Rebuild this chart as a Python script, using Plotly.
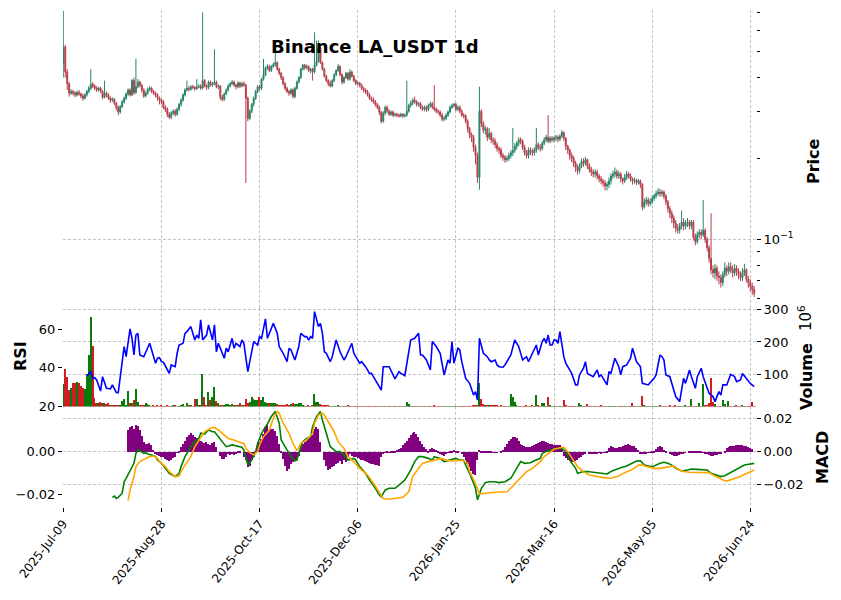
import pandas as pd
import plotly.graph_objects as go

START = "2025-07-09"
TITLE = "Binance LA_USDT 1d"
FIRST_OPEN = 0.45

close = [
0.52,0.42,0.38,0.35,0.355,0.35,0.345,0.352,0.348,0.342,
0.335,0.345,0.355,0.365,0.378,0.372,0.366,0.36,0.365,0.356,
0.338,0.35,0.344,0.336,0.33,0.332,0.322,0.31,0.298,0.312,
0.325,0.335,0.348,0.36,0.345,0.39,0.352,0.37,0.385,0.375,
0.36,0.342,0.35,0.362,0.365,0.355,0.35,0.345,0.335,0.33,
0.325,0.31,0.305,0.292,0.285,0.295,0.30,0.292,0.305,0.318,
0.33,0.345,0.36,0.365,0.362,0.37,0.368,0.364,0.37,0.372,
0.366,0.39,0.372,0.368,0.385,0.375,0.38,0.385,0.37,0.372,
0.338,0.332,0.348,0.36,0.372,0.38,0.385,0.375,0.37,0.382,
0.372,0.38,0.375,0.335,0.282,0.30,0.318,0.335,0.355,0.37,
0.365,0.395,0.41,0.435,0.44,0.425,0.44,0.448,0.455,0.43,
0.415,0.40,0.38,0.365,0.355,0.35,0.36,0.34,0.365,0.385,
0.40,0.43,0.445,0.435,0.44,0.425,0.43,0.42,0.445,0.46,
0.515,0.455,0.43,0.405,0.39,0.38,0.372,0.39,0.41,0.425,
0.44,0.41,0.385,0.40,0.415,0.395,0.42,0.405,0.39,0.38,
0.382,0.375,0.365,0.36,0.355,0.345,0.335,0.332,0.325,0.318,
0.31,0.298,0.275,0.295,0.31,0.30,0.292,0.298,0.29,0.292,
0.29,0.288,0.292,0.288,0.29,0.30,0.315,0.322,0.33,0.325,
0.318,0.32,0.31,0.305,0.31,0.305,0.315,0.32,0.31,0.305,
0.30,0.298,0.29,0.28,0.282,0.29,0.298,0.31,0.315,0.318,
0.305,0.31,0.30,0.29,0.288,0.275,0.258,0.245,0.24,0.22,
0.205,0.17,0.30,0.27,0.255,0.258,0.24,0.248,0.235,0.232,
0.225,0.218,0.215,0.205,0.202,0.198,0.20,0.205,0.21,0.214,
0.222,0.228,0.235,0.232,0.22,0.21,0.205,0.215,0.212,0.21,
0.215,0.225,0.22,0.218,0.228,0.235,0.24,0.232,0.238,0.235,
0.238,0.24,0.236,0.242,0.25,0.238,0.222,0.215,0.205,0.20,
0.192,0.185,0.18,0.188,0.195,0.192,0.198,0.188,0.182,0.178,
0.175,0.178,0.172,0.168,0.165,0.162,0.158,0.16,0.165,0.172,
0.175,0.178,0.172,0.175,0.168,0.165,0.17,0.175,0.172,0.168,
0.165,0.166,0.163,0.165,0.16,0.132,0.138,0.14,0.136,0.138,
0.142,0.145,0.148,0.15,0.148,0.15,0.145,0.138,0.13,0.125,
0.12,0.115,0.11,0.108,0.112,0.116,0.112,0.115,0.116,0.112,
0.116,0.102,0.098,0.104,0.106,0.104,0.108,0.10,0.093,0.085,
0.077,0.075,0.078,0.073,0.072,0.069,0.074,0.078,0.076,0.079,
0.077,0.075,0.078,0.076,0.074,0.072,0.075,0.077,0.071,0.069,
0.067,0.065,0.063]

high = [
0.71,0.53,0.43,0.385,0.362,0.36,0.356,0.358,0.36,0.352,
0.348,0.35,0.36,0.372,0.43,0.385,0.378,0.372,0.37,0.37,
0.36,0.39,0.355,0.35,0.34,0.338,0.336,0.325,0.315,0.316,
0.33,0.34,0.352,0.365,0.365,0.395,0.40,0.47,0.395,0.39,
0.38,0.365,0.356,0.368,0.372,0.37,0.36,0.355,0.35,0.34,
0.335,0.33,0.316,0.31,0.298,0.30,0.305,0.305,0.31,0.322,
0.335,0.35,0.365,0.39,0.372,0.375,0.376,0.372,0.395,0.378,
0.378,0.70,0.395,0.378,0.39,0.39,0.385,0.51,0.39,0.378,
0.375,0.345,0.352,0.365,0.378,0.385,0.392,0.39,0.38,0.388,
0.386,0.386,0.388,0.38,0.34,0.305,0.322,0.34,0.36,0.375,
0.376,0.40,0.47,0.44,0.448,0.445,0.445,0.455,0.52,0.46,
0.435,0.42,0.405,0.385,0.37,0.36,0.365,0.365,0.37,0.39,
0.405,0.435,0.45,0.45,0.448,0.445,0.435,0.435,0.59,0.55,
0.55,0.52,0.46,0.435,0.41,0.395,0.39,0.395,0.415,0.43,
0.45,0.445,0.415,0.405,0.42,0.42,0.43,0.425,0.41,0.395,
0.388,0.386,0.38,0.37,0.365,0.36,0.35,0.34,0.338,0.33,
0.322,0.315,0.30,0.30,0.315,0.315,0.305,0.302,0.302,0.296,
0.296,0.294,0.296,0.295,0.294,0.39,0.32,0.328,0.335,0.34,
0.33,0.325,0.325,0.315,0.315,0.315,0.32,0.325,0.325,0.375,
0.31,0.305,0.302,0.295,0.288,0.295,0.302,0.315,0.32,0.322,
0.322,0.315,0.315,0.305,0.295,0.292,0.28,0.262,0.25,0.245,
0.225,0.21,0.37,0.305,0.275,0.265,0.262,0.26,0.252,0.24,
0.238,0.23,0.222,0.22,0.21,0.206,0.205,0.21,0.215,0.26,
0.228,0.232,0.24,0.24,0.236,0.225,0.215,0.22,0.22,0.218,
0.22,0.26,0.23,0.226,0.232,0.24,0.245,0.29,0.242,0.242,
0.242,0.245,0.244,0.246,0.255,0.252,0.24,0.225,0.218,0.21,
0.205,0.196,0.19,0.192,0.20,0.20,0.203,0.20,0.192,0.186,
0.182,0.182,0.182,0.175,0.172,0.168,0.166,0.164,0.17,0.176,
0.18,0.185,0.182,0.18,0.178,0.17,0.175,0.18,0.178,0.176,
0.17,0.17,0.168,0.168,0.167,0.162,0.142,0.144,0.143,0.142,
0.146,0.148,0.152,0.155,0.154,0.153,0.152,0.147,0.14,0.133,
0.128,0.123,0.118,0.114,0.115,0.128,0.12,0.118,0.12,0.118,
0.118,0.118,0.105,0.107,0.109,0.109,0.14,0.11,0.102,0.095,
0.125,0.08,0.081,0.08,0.076,0.074,0.076,0.082,0.08,0.082,
0.082,0.08,0.081,0.08,0.078,0.076,0.078,0.081,0.078,0.073,
0.071,0.069,0.067]

low = [
0.40,0.40,0.36,0.34,0.345,0.343,0.338,0.34,0.342,0.335,
0.328,0.332,0.34,0.35,0.36,0.365,0.36,0.354,0.355,0.35,
0.332,0.335,0.338,0.33,0.322,0.325,0.316,0.302,0.29,0.294,
0.308,0.32,0.33,0.342,0.34,0.342,0.345,0.348,0.365,0.368,
0.352,0.336,0.338,0.346,0.356,0.35,0.344,0.338,0.328,0.318,
0.318,0.305,0.298,0.285,0.28,0.28,0.29,0.286,0.288,0.30,
0.312,0.325,0.34,0.355,0.356,0.358,0.362,0.358,0.36,0.365,
0.36,0.362,0.368,0.36,0.362,0.37,0.37,0.375,0.365,0.362,
0.33,0.326,0.328,0.344,0.355,0.368,0.375,0.37,0.362,0.365,
0.366,0.368,0.37,0.162,0.275,0.278,0.295,0.312,0.33,0.35,
0.358,0.36,0.39,0.405,0.428,0.42,0.42,0.435,0.44,0.425,
0.408,0.392,0.374,0.358,0.35,0.342,0.345,0.335,0.335,0.36,
0.38,0.395,0.425,0.428,0.43,0.42,0.415,0.39,0.415,0.44,
0.455,0.45,0.425,0.40,0.385,0.372,0.368,0.368,0.385,0.405,
0.42,0.405,0.378,0.38,0.395,0.39,0.39,0.40,0.385,0.375,
0.374,0.368,0.36,0.352,0.348,0.34,0.33,0.325,0.32,0.312,
0.305,0.29,0.27,0.272,0.29,0.295,0.288,0.288,0.285,0.286,
0.285,0.284,0.285,0.283,0.284,0.286,0.296,0.31,0.316,0.32,
0.312,0.312,0.305,0.30,0.30,0.298,0.30,0.31,0.305,0.30,
0.295,0.292,0.285,0.275,0.275,0.278,0.285,0.294,0.305,0.31,
0.30,0.30,0.295,0.285,0.282,0.27,0.25,0.238,0.23,0.212,
0.19,0.162,0.153,0.262,0.248,0.245,0.232,0.235,0.228,0.225,
0.218,0.212,0.208,0.20,0.196,0.193,0.194,0.196,0.20,0.204,
0.21,0.216,0.222,0.226,0.215,0.205,0.20,0.20,0.206,0.204,
0.205,0.21,0.215,0.212,0.214,0.224,0.23,0.228,0.228,0.23,
0.23,0.232,0.23,0.232,0.238,0.232,0.215,0.208,0.198,0.194,
0.186,0.178,0.174,0.176,0.184,0.186,0.188,0.183,0.177,0.172,
0.17,0.17,0.167,0.163,0.16,0.157,0.152,0.152,0.155,0.16,
0.168,0.17,0.168,0.168,0.163,0.16,0.162,0.166,0.168,0.164,
0.16,0.161,0.159,0.16,0.155,0.128,0.13,0.134,0.132,0.133,
0.135,0.139,0.142,0.145,0.144,0.144,0.141,0.134,0.126,0.12,
0.115,0.11,0.106,0.105,0.105,0.109,0.108,0.109,0.111,0.109,
0.109,0.099,0.095,0.096,0.101,0.10,0.102,0.097,0.09,0.082,
0.074,0.072,0.071,0.07,0.068,0.066,0.067,0.072,0.073,0.074,
0.075,0.072,0.073,0.073,0.071,0.07,0.07,0.073,0.069,0.066,
0.064,0.062,0.061]

# daily volume, millions
volume_m = [
70,117,90,50,57,72,72,76,72,64,
58,55,100,160,278,186,25,12,12,14,
10,12,8,10,5,4,5,6,5,6,
17,22,6,48,10,10,20,53,15,6,
4,4,10,8,4,1.5,4,1.5,4,1.5,
4,1.5,1.5,6,1.5,1.5,4,6,1.5,1.5,
4,8,1.5,10,4,6,1.5,22,22,5,
4,100,30,5,46,20,30,62,17,12,
6,5,4,8,8,6,8,5,4,4,
10,4,4,24,10,15,28,24,20,20,
31,20,29,13,10,10,10,10,10,8,
6,5,4,5,8,5,8,10,8,9,
12,12,4,1.5,1.5,5,1.5,5,39,15,
14,9,5,5,5,4,1.5,1.5,1.5,1.5,
5,1.5,1.5,1.5,1.5,5,1.5,1.5,1.5,1.5,
1.5,1.5,1.5,1.5,1.5,1.5,1.5,1.5,1.5,1.5,
1.5,1.5,1.5,1.5,1.5,1.5,1.5,1.5,1.5,1.5,
1.5,1.5,1.5,1.5,1.5,14,8,1.5,1.5,1.5,
1.5,1.5,1.5,1.5,1.5,1.5,1.5,1.5,1.5,5,
1.5,1.5,1.5,1.5,1.5,1.5,1.5,1.5,1.5,1.5,
1.5,1.5,1.5,1.5,1.5,1.5,1.5,1.5,1.5,5,
5,6,73,22,9,5,4,4,6,4,
4,5,1.5,6,1.5,1.5,1.5,1.5,38,30,
13,4,1.5,1.5,1.5,1.5,5,1.5,1.5,5,
1.5,36,5,1.5,12,12,1.5,28,5,1.5,
1.5,1.5,1.5,1.5,1.5,20,5,1.5,1.5,1.5,
1.5,1.5,1.5,11,4,1.5,1.5,8,1.5,1.5,
1.5,1.5,1.5,1.5,4,1.5,1.5,1.5,1.5,1.5,
1.5,1.5,1.5,1.5,1.5,1.5,1.5,1.5,1.5,1.5,
11,1.5,1.5,1.5,1.5,33,4,1.5,1.5,1.5,
1.5,1.5,1.5,1.5,5,1.5,1.5,1.5,1.5,6,
1.5,1.5,6,1.5,1.5,1.5,1.5,6,1.5,1.5,
23,1.5,1.5,1.5,10,1.5,70,5,5,12,
88,15,9,1.5,1.5,1.5,20,8,1.5,17,
1.5,1.5,1.5,6,1.5,1.5,5,1.5,1.5,1.5,
1.5,14,1.5]

rsi_day = [12,14,15,16,17,19,20,22,24,25,27,28,31,32,34,35,36,37,38,39,41,44,47,48,49,50,51,54,55,57,
58,59,61,62,63,65,67,68,69,70,71,73,74,76,77,78,79,80,82,83,84,86,87,88,90,91,92,94,96,97,
99,100,101,103,104,107,109,110,112,114,115,116,118,120,121,123,124,125,126,127,128,130,131,132,133,134,136,137,139,141,
143,144,147,148,149,151,152,154,156,157,162,163,166,169,171,172,174,177,179,181,182,183,185,187,188,190,192,194,196,197,
198,199,201,202,203,205,207,209,210,211,212,214,216,217,218,220,221,222,224,225,228,230,232,234,236,237,239,241,242,244,
245,246,247,248,249,250,251,252,253,255,256,258,259,261,262,263,265,266,267,270,272,273,274,277,278,279,281,283,284,285,
287,289,290,292,294,295,298,301,302,304,305,306,307,309,311,312,314,315,316,317,319,320,322,323,325,326,328,329,331,332,
334,335,336,338,340,342,343,345,346,348,350,352]
rsi_val = [35.7,37.9,34.4,34.8,33.6,27.8,35.3,29.2,28.9,31.0,27.1,27.0,51.0,45.7,60.2,55.3,46.6,57.0,57.9,46.6,45.7,52.7,42.3,44.9,45.2,43.1,42.8,37.0,41.4,40.5,
47.5,51.8,52.7,57.9,58.8,61.4,54.4,57.0,55.3,64.9,54.4,57.0,62.3,54.4,62.3,48.3,52.7,50.1,44.9,50.1,48.3,55.3,50.1,52.7,51.0,54.4,52.7,37.9,48.3,53.6,
51.8,56.2,55.3,65.4,55.3,63.1,57.9,51.0,47.5,43.1,50.1,49.2,44.0,51.0,57.9,56.2,56.2,54.4,56.2,55.3,69.2,61.4,63.1,57.9,48.3,47.5,43.1,45.7,54.4,48.3,
44.0,45.7,52.7,47.5,45.7,42.3,43.1,40.5,37.0,37.0,28.3,40.5,40.5,34.1,37.9,37.0,35.8,54.4,55.3,57.9,46.6,46.6,44.0,38.8,53.6,51.0,47.5,36.2,44.0,42.3,
53.6,42.3,50.1,49.2,43.1,34.4,31.8,25.7,27.5,23.1,55.3,47.5,45.7,44.0,43.1,44.0,41.4,40.5,40.2,41.4,46.6,54.4,51.0,44.0,45.7,43.1,47.5,51.8,46.6,53.6,
55.3,52.7,57.0,51.8,51.8,54.4,54.4,52.7,58.8,45.7,42.3,38.8,37.0,31.0,31.0,36.2,39.7,43.1,37.0,35.3,38.8,35.3,36.2,31.0,37.9,37.0,44.9,40.5,36.2,40.5,
41.4,44.9,50.1,43.1,40.5,31.8,31.0,34.4,36.2,46.6,45.7,44.0,36.2,35.3,28.3,24.9,22.3,28.3,34.4,31.8,38.8,35.3,29.2,35.3,39.7,35.3,30.1,26.6,24.9,22.3,
27.5,25.7,31.0,31.0,36.5,35.3,32.7,33.6,37.0,34.4,31.8,30.1]

macd_day = [25,26,27,28,30,31,32,34,36,37,38,39,41,42,43,45,47,48,50,52,54,57,59,60,62,64,65,67,69,70,
72,74,76,77,79,81,82,83,86,88,91,92,93,94,96,98,99,101,103,104,106,108,110,111,113,115,116,118,119,121,
122,124,126,127,129,131,132,134,136,138,139,141,143,145,148,149,151,154,156,159,161,162,164,166,169,171,174,177,179,181,
183,186,188,189,192,194,196,198,200,201,204,205,207,210,211,213,215,217,220,222,225,228,230,233,235,238,240,241,243,244,
247,250,252,254,256,258,261,262,265,267,270,273,274,277,279,282,284,287,290,292,294,296,299,301,304,306,308,310,312,315,
318,320,323,325,328,330,333,335,337,340,342,345,347,350,352]
macd_val = [-0.0214,-0.0208,-0.0219,-0.0214,-0.0195,-0.0142,-0.0126,-0.0088,-0.0057,-0.0011,0.0005,0.0002,-0.0011,-0.0008,-0.0014,-0.0018,-0.0026,-0.0042,-0.0057,-0.0080,-0.0103,-0.0118,-0.0103,-0.0072,-0.0026,0.0005,0.0020,0.0043,0.0058,0.0082,
0.0078,0.0097,0.0089,0.0089,0.0066,0.0043,0.0028,0.0020,0.0028,0.0023,0.0017,0.0005,-0.0038,-0.0065,-0.0042,-0.0003,0.0035,0.0082,0.0112,0.0125,0.0159,0.0182,0.0128,0.0051,0.0020,-0.0011,-0.0026,-0.0045,-0.0042,0.0020,
0.0043,0.0058,0.0066,0.0112,0.0159,0.0182,0.0143,0.0082,0.0020,0.0005,-0.0003,-0.0003,-0.0018,-0.0042,-0.0034,-0.0042,-0.0072,-0.0103,-0.0134,-0.0172,-0.0203,-0.0211,-0.0180,-0.0172,-0.0172,-0.0157,-0.0134,-0.0088,-0.0049,-0.0026,
-0.0026,-0.0034,-0.0042,-0.0026,-0.0034,-0.0049,-0.0045,-0.0038,-0.0034,-0.0038,-0.0042,-0.0065,-0.0103,-0.0172,-0.0226,-0.0172,-0.0146,-0.0142,-0.0142,-0.0146,-0.0142,-0.0126,-0.0095,-0.0049,-0.0057,-0.0054,-0.0045,-0.0042,-0.0034,-0.0011,
0.0002,0.0008,0.0012,0.0012,-0.0003,-0.0042,-0.0080,-0.0103,-0.0095,-0.0095,-0.0098,-0.0100,-0.0103,-0.0106,-0.0095,-0.0082,-0.0077,-0.0069,-0.0057,-0.0046,-0.0045,-0.0065,-0.0072,-0.0069,-0.0057,-0.0052,-0.0057,-0.0065,-0.0080,-0.0092,
-0.0088,-0.0083,-0.0085,-0.0085,-0.0088,-0.0103,-0.0111,-0.0118,-0.0114,-0.0100,-0.0088,-0.0075,-0.0065,-0.0060,-0.0057]

signal_day = [33,34,36,37,39,42,44,46,48,49,52,54,57,59,60,62,65,67,70,72,75,77,79,82,84,87,89,92,93,95,
97,99,100,102,105,107,109,110,112,115,117,119,121,124,127,128,130,132,133,135,138,140,143,145,148,151,155,158,161,163,
166,169,173,176,178,181,183,186,189,193,195,198,200,203,206,207,210,212,215,218,222,226,228,231,234,236,239,240,243,245,
248,250,253,255,257,260,262,265,268,272,275,279,283,286,290,293,295,297,301,304,307,311,313,316,319,323,326,329,331,334,
336,338,340,342,345,347,350,352]
signal_val = [-0.0229,-0.0180,-0.0118,-0.0072,-0.0049,-0.0034,-0.0026,-0.0023,-0.0034,-0.0049,-0.0072,-0.0095,-0.0118,-0.0115,-0.0095,-0.0065,-0.0026,0.0020,0.0058,0.0089,0.0105,0.0109,0.0097,0.0074,0.0058,0.0051,0.0043,0.0035,0.0012,-0.0008,
-0.0018,-0.0003,0.0028,0.0066,0.0097,0.0151,0.0182,0.0174,0.0128,0.0082,0.0035,0.0002,0.0035,0.0051,0.0082,0.0128,0.0166,0.0174,0.0166,0.0135,0.0089,0.0043,0.0012,-0.0026,-0.0049,-0.0080,-0.0111,-0.0149,-0.0195,-0.0219,
-0.0223,-0.0220,-0.0214,-0.0188,-0.0118,-0.0080,-0.0057,-0.0049,-0.0042,-0.0034,-0.0042,-0.0046,-0.0045,-0.0042,-0.0057,-0.0095,-0.0149,-0.0199,-0.0195,-0.0192,-0.0189,-0.0188,-0.0172,-0.0142,-0.0111,-0.0095,-0.0080,-0.0072,-0.0049,-0.0026,
-0.0008,0.0008,0.0015,0.0017,-0.0003,-0.0042,-0.0072,-0.0095,-0.0111,-0.0118,-0.0123,-0.0126,-0.0115,-0.0100,-0.0085,-0.0065,-0.0065,-0.0072,-0.0080,-0.0080,-0.0075,-0.0069,-0.0085,-0.0095,-0.0098,-0.0098,-0.0098,-0.0100,-0.0111,-0.0126,
-0.0134,-0.0139,-0.0134,-0.0126,-0.0118,-0.0108,-0.0098,-0.0088]

HIST_START = 33
hist = [
0.0132,0.0152,0.0158,0.0142,0.0162,0.0156,0.0136,
0.0101,0.0061,0.0051,0.0047,0.0055,0.0045,0.0016,-0.0010,-0.0016,-0.0020,
-0.0026,-0.0030,-0.0040,-0.0046,-0.0054,-0.0046,-0.0034,-0.0026,-0.0004,0.0010,
0.0031,0.0051,0.0067,0.0091,0.0107,0.0115,0.0107,0.0095,0.0087,0.0075,
0.0067,0.0061,0.0055,0.0059,0.0051,0.0045,0.0055,0.0061,0.0031,0.0,
-0.0020,-0.0040,-0.0040,-0.0026,-0.0010,-0.0016,-0.0006,-0.0014,-0.0010,0.0006,
0.0010,0.0,-0.0030,-0.0050,-0.0087,-0.0081,-0.0050,-0.0026,0.0,0.0035,
0.0061,0.0081,0.0111,0.0152,0.0162,0.0136,0.0142,0.0142,0.0128,0.0101,
0.0051,0.0010,-0.0040,-0.0081,-0.0111,-0.0101,-0.0071,-0.0060,-0.0050,-0.0046,
-0.0020,0.0031,0.0051,0.0061,0.0071,0.0081,0.0091,0.0107,0.0142,0.0152,
0.0142,0.0061,0.0,-0.0050,-0.0081,-0.0107,-0.0101,-0.0091,-0.0081,-0.0071,
-0.0067,-0.0054,-0.0071,-0.0050,-0.0060,-0.0030,-0.0010,-0.0020,-0.0026,-0.0030,
-0.0036,-0.0040,-0.0046,-0.0050,-0.0056,-0.0060,-0.0067,-0.0071,-0.0073,-0.0075,
-0.0079,-0.0081,-0.0026,-0.0010,-0.0004,0.0002,-0.0002,0.0002,0.0006,0.0010,
0.0014,0.0020,0.0026,0.0041,0.0055,0.0071,0.0087,0.0107,0.0119,0.0121,
0.0111,0.0095,0.0071,0.0051,0.0031,0.0020,0.0010,0.0020,0.0026,0.0020,
0.0014,0.0006,-0.0006,-0.0014,-0.0020,-0.0010,-0.0002,0.0006,0.0010,0.0014,
0.0010,0.0006,0.0,-0.0010,-0.0030,-0.0050,-0.0071,-0.0091,-0.0111,-0.0131,
-0.0135,-0.0050,0.0014,0.0010,0.0006,0.0002,0.0004,0.0006,0.0002,-0.0002,
-0.0004,-0.0002,0.0,0.0006,0.0014,0.0031,0.0051,0.0067,0.0081,0.0095,
0.0095,0.0087,0.0067,0.0051,0.0041,0.0035,0.0031,0.0031,0.0033,0.0039,
0.0041,0.0047,0.0055,0.0061,0.0065,0.0067,0.0061,0.0055,0.0051,0.0047,
0.0043,0.0043,0.0045,0.0043,0.0020,-0.0020,-0.0034,-0.0046,-0.0054,-0.0060,
-0.0060,-0.0054,-0.0046,-0.0038,-0.0026,-0.0014,-0.0006,0.0,-0.0006,-0.0008,
-0.0008,-0.0006,-0.0006,-0.0004,-0.0006,-0.0004,-0.0002,0.0010,0.0026,0.0035,
0.0031,0.0026,0.0026,0.0031,0.0031,0.0035,0.0041,0.0045,0.0047,0.0045,
0.0039,0.0035,0.0026,0.0014,-0.0006,-0.0010,-0.0006,-0.0006,-0.0002,-0.0002,
0.0006,0.0010,0.0020,0.0031,0.0035,0.0031,0.0014,0.0006,0.0,-0.0010,
-0.0016,-0.0020,-0.0022,-0.0020,-0.0014,-0.0010,-0.0006,-0.0004,0.0,0.0006,
0.0008,0.0008,0.0006,0.0008,0.0006,0.0002,-0.0002,-0.0006,-0.0010,-0.0016,
-0.0020,-0.0020,-0.0018,-0.0014,-0.0010,-0.0006,0.0,0.0010,0.0024,0.0031,
0.0035,0.0039,0.0039,0.0041,0.0041,0.0041,0.0041,0.0039,0.0035,0.0031,
0.0026,0.0022]

tick_days = [0, 50, 100, 150, 200, 250, 300, 350]

# ---------------------------------------------------------------
dates = pd.date_range(START, periods=len(close), freq="D")
opens = [FIRST_OPEN] + close[:-1]
UP, DOWN = "#26856a", "#b63f49"
VUP, VDOWN = "#0b7a0b", "#cd1e23"
vol_colors = [VUP if c >= o else VDOWN for o, c in zip(opens, close)]
DAY_MS = 86400000
FONT = "DejaVu Sans"
GRID = "#c4c4c4"
DASH = "3px,2px"

fig = go.Figure()
fig.add_trace(go.Candlestick(
    x=dates, open=opens, high=high, low=low, close=close,
    increasing=dict(line=dict(color=UP, width=1), fillcolor=UP),
    decreasing=dict(line=dict(color=DOWN, width=1), fillcolor=DOWN),
    whiskerwidth=0, xaxis="x", yaxis="y", showlegend=False, hoverinfo="skip"))
fig.add_trace(go.Bar(
    x=dates, y=[v * 1e6 for v in volume_m], marker=dict(color=vol_colors, line=dict(width=0)),
    width=0.75 * DAY_MS, xaxis="x", yaxis="y2", showlegend=False, hoverinfo="skip"))
fig.add_trace(go.Scatter(
    x=[dates[d] for d in rsi_day], y=rsi_val, mode="lines",
    line=dict(color="blue", width=1.6), xaxis="x", yaxis="y3", showlegend=False, hoverinfo="skip"))
fig.add_trace(go.Bar(
    x=dates[HIST_START:HIST_START + len(hist)], y=hist, marker=dict(color="#800080", line=dict(width=0)),
    width=0.7 * DAY_MS, xaxis="x", yaxis="y4", showlegend=False, hoverinfo="skip"))
fig.add_trace(go.Scatter(
    x=[dates[d] for d in macd_day], y=macd_val, mode="lines",
    line=dict(color="#008000", width=1.6), xaxis="x", yaxis="y5", showlegend=False, hoverinfo="skip"))
fig.add_trace(go.Scatter(
    x=[dates[d] for d in signal_day], y=signal_val, mode="lines",
    line=dict(color="#ffa500", width=1.6), xaxis="x", yaxis="y5", showlegend=False, hoverinfo="skip"))

W, H = 841, 600
ML, MR, MT, MB = 63, 85, 10, 93
PW, PH = W - ML - MR, H - MT - MB


def py(pix):
    return (H - MB - pix) / PH


def px(pix):
    return (pix - ML) / PW


D_MACD = [0, py(406.5)]
D_VOL = [py(406.5), py(308)]
D_PRICE = [py(308), 1]

tickfont = dict(family=FONT, size=13, color="black")
common_y = dict(ticks="outside", ticklen=4, tickwidth=1, tickcolor="black", tickfont=tickfont,
                zeroline=False, showline=False, anchor="x", automargin=False)

x0 = dates[0] - pd.Timedelta(hours=3.6)
x1 = dates[-1] + pd.Timedelta(hours=21.6)

fig.update_layout(
    width=W, height=H, margin=dict(l=ML, r=MR, t=MT, b=MB, autoexpand=False),
    paper_bgcolor="white", plot_bgcolor="white", showlegend=False, bargap=0,
    font=dict(family=FONT, color="black"),
    xaxis=dict(type="date", range=[x0, x1], anchor="y4", domain=[0, 1], automargin=False,
               tickvals=[dates[d] for d in tick_days],
               ticktext=[dates[d].strftime("%Y-%b-%d") for d in tick_days],
               tickangle=-52, ticks="outside", ticklen=4, tickcolor="black",
               tickfont=dict(family=FONT, size=12, color="black"),
               showgrid=True, gridcolor=GRID, griddash=DASH, gridwidth=0.8,
               zeroline=False, showline=False, rangeslider=dict(visible=False)),
    yaxis=dict(domain=D_PRICE, type="log", range=[-1.2559, -0.1460], side="right",
               tickvals=[0.1], ticktext=["10<sup>\u22121</sup>"],
               showgrid=True, gridcolor=GRID, griddash=DASH, gridwidth=0.8,
               minor=dict(tickvals=[0.06, 0.07, 0.08, 0.09, 0.2, 0.3, 0.4, 0.5, 0.6, 0.7],
                          ticks="outside", ticklen=3, tickcolor="black", tickwidth=0.8, showgrid=False),
               **common_y),
    yaxis2=dict(domain=D_VOL, range=[0, 305.3e6], side="right",
                tickvals=[100e6, 200e6, 300e6], ticktext=["100", "200", "300"],
                showgrid=True, gridcolor=GRID, griddash=DASH, gridwidth=0.8, **common_y),
    yaxis3=dict(overlaying="y2", range=[19.74, 71.1], side="left",
                tickvals=[20, 40, 60], ticktext=["20", "40", "60"], showgrid=False, **common_y),
    yaxis4=dict(domain=D_MACD, range=[-0.0335, 0.0274], side="right",
                tickvals=[-0.02, 0, 0.02], ticktext=["\u22120.02", "0.00", "0.02"],
                showgrid=True, gridcolor=GRID, griddash=DASH, gridwidth=0.8, **common_y),
    yaxis5=dict(overlaying="y4", range=[-0.02585, 0.02054], side="left",
                tickvals=[-0.02, 0], ticktext=["\u22120.02", "0.00"], showgrid=False, **common_y),
)

fig.add_shape(type="line", xref="paper", yref="paper", x0=0, x1=1, y0=py(406.5), y1=py(406.5),
              line=dict(color=GRID, width=0.8, dash=DASH), layer="below")

lab = dict(family=FONT, size=16, color="black", weight="bold")
ann = [
    dict(text=TITLE, x=px(375), y=py(46), font=dict(family=FONT, size=18, color="black", weight="bold"), textangle=0),
    dict(text="Price", x=px(813), y=py(161), font=lab, textangle=-90),
    dict(text="Volume", x=px(806), y=py(377), font=lab, textangle=-90),
    dict(text="10<sup>6</sup>", x=px(805), y=py(318), font=dict(family=FONT, size=15, color="black"), textangle=-90),
    dict(text="MACD", x=px(822), y=py(458), font=lab, textangle=-90),
    dict(text="RSI", x=px(20), y=py(356), font=lab, textangle=-90),
]
for a in ann:
    fig.add_annotation(xref="paper", yref="paper", showarrow=False, xanchor="center", yanchor="middle", **a)

fig.write_html("out.html")
